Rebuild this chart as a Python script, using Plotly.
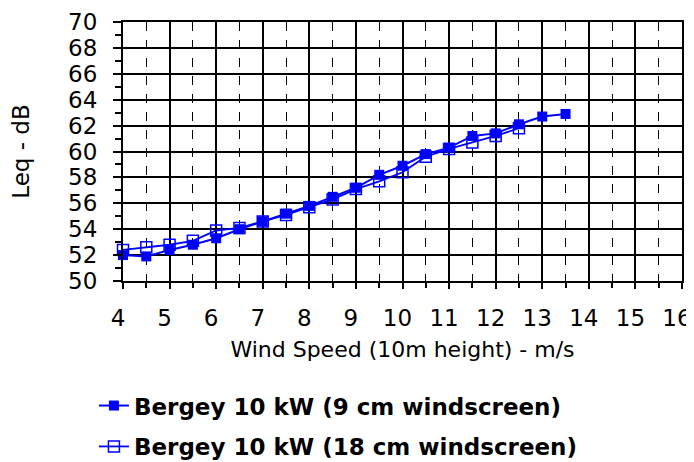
import plotly.graph_objects as go

# wind speed (m/s) and Leq (dB)
wind_9cm = [4, 4.5, 5, 5.5, 6, 6.5, 7, 7.5, 8, 8.5, 9, 9.5, 10, 10.5, 11, 11.5, 12, 12.5, 13, 13.5]
leq_9cm = [52.0, 51.9, 52.4, 52.8, 53.3, 54.0, 54.6, 55.2, 55.8, 56.5, 57.2, 58.2, 58.9,
           59.8, 60.3, 61.2, 61.4, 62.1, 62.7, 62.9]

wind_18cm = [4, 4.5, 5, 5.5, 6, 6.5, 7, 7.5, 8, 8.5, 9, 9.5, 10, 10.5, 11, 11.5, 12, 12.5]
leq_18cm = [52.4, 52.6, 52.8, 53.1, 53.9, 54.1, 54.6, 55.1, 55.7, 56.3, 57.1, 57.7, 58.4,
            59.6, 60.2, 60.7, 61.2, 61.8]

BLUE = "#0000ff"
FONT = "DejaVu Sans, Arial, sans-serif"

fig = go.Figure()

fig.add_trace(go.Scatter(
    x=wind_9cm, y=leq_9cm, mode="lines+markers",
    name="<b>Bergey 10 kW (9 cm windscreen)</b>",
    line=dict(color=BLUE, width=2),
    marker=dict(symbol="square", size=10, color=BLUE),
    legendgroup="a", cliponaxis=False,
))
fig.add_trace(go.Scatter(
    x=wind_18cm, y=leq_18cm, mode="lines+markers",
    name="<b>Bergey 10 kW (18 cm windscreen)</b>",
    line=dict(color=BLUE, width=1.8),
    marker=dict(symbol="square-open", size=11, color=BLUE, line=dict(width=1.5)),
    legendgroup="b", cliponaxis=False,
))

# the page body adds an 8px margin; margins are shifted to compensate and the
# figure is made a bit taller so the legend never pushes the plot area
fig.update_layout(
    width=694, height=480,
    margin=dict(l=115, r=20, t=14, b=207),
    plot_bgcolor="white", paper_bgcolor="white",
    font=dict(family=FONT, size=23, color="black"),
    showlegend=True,
    legend=dict(x=-0.052, y=-0.398, xanchor="left", yanchor="top",
                font=dict(size=23), tracegroupgap=8, itemwidth=30,
                bgcolor="rgba(0,0,0,0)"),
)

fig.update_xaxes(
    range=[4, 16], dtick=1, tick0=4, automargin=False,
    showgrid=True, gridcolor="black", gridwidth=1.5,
    showline=True, linecolor="black", linewidth=2, mirror=True,
    ticks="outside", ticklen=6, tickcolor="black", tickwidth=2,
    ticklabelstandoff=9, ticklabelshift=-5,
    zeroline=False,
    minor=dict(dtick=0.5, showgrid=True, gridcolor="black", griddash="dash",
               gridwidth=1, ticks="outside", ticklen=5, tickcolor="black", tickwidth=2),
    title=dict(text="Wind Speed (10m height) - m/s", font=dict(size=22), standoff=12),
    tickfont=dict(size=23),
)
fig.update_yaxes(
    range=[50, 70], dtick=2, tick0=50, automargin=False,
    showgrid=True, gridcolor="black", gridwidth=1.5,
    showline=True, linecolor="black", linewidth=2, mirror=True,
    ticks="outside", ticklen=8, tickcolor="black", tickwidth=2,
    ticklabelstandoff=11,
    zeroline=False,
    minor=dict(dtick=1, showgrid=False, ticks="outside", ticklen=6,
               tickcolor="black", tickwidth=2),
    title=dict(text="Leq - dB", font=dict(size=23), standoff=34),
    tickfont=dict(size=23),
)

fig.write_html("out.html")
